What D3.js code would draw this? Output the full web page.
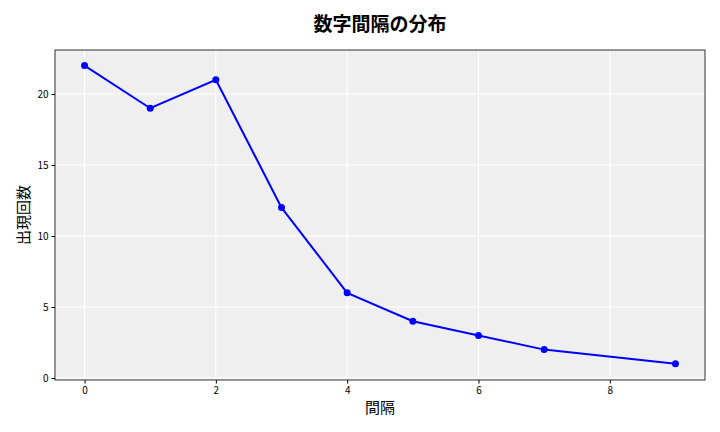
<!DOCTYPE html>
<html><head><meta charset="utf-8">
<script src="https://cdn.jsdelivr.net/npm/d3@7"></script>
<style>body{margin:0;background:#fff}text{font-family:"Noto Sans CJK JP","DejaVu Sans",sans-serif}</style>
</head><body><svg id="c" width="720" height="432"></svg>
<script>
var gaps = [0, 1, 2, 3, 4, 5, 6, 7, 9];
var counts = [22, 19, 21, 12, 6, 4, 3, 2, 1];
var xTicks = [0, 2, 4, 6, 8];
var yTicks = [0, 5, 10, 15, 20];

var svg = d3.select("#c");
var m = {l: 55, r: 705, t: 50, b: 380};
var x = d3.scaleLinear().domain([-0.45, 9.45]).range([m.l, m.r]);
var y = d3.scaleLinear().domain([-0.14, 23.1]).range([m.b, m.t]);

svg.append("rect").attr("x", m.l).attr("y", m.t).attr("width", m.r - m.l).attr("height", m.b - m.t).attr("fill", "#efefef");

// grid
svg.append("g").selectAll("line").data(xTicks).enter().append("line")
    .attr("x1", x).attr("x2", x).attr("y1", m.t).attr("y2", m.b).attr("stroke", "#fff");
svg.append("g").selectAll("line").data(yTicks).enter().append("line")
    .attr("y1", y).attr("y2", y).attr("x1", m.l).attr("x2", m.r).attr("stroke", "#fff");

svg.append("rect").attr("x", m.l).attr("y", m.t).attr("width", m.r - m.l).attr("height", m.b - m.t)
    .attr("fill", "none").attr("stroke", "#000").attr("stroke-width", 0.8);

var gx = svg.append("g").attr("transform", "translate(0," + m.b + ")")
    .call(d3.axisBottom(x).tickValues(xTicks).tickSize(3.5));
var gy = svg.append("g").attr("transform", "translate(" + m.l + ",0)")
    .call(d3.axisLeft(y).tickValues(yTicks).tickSize(3.5));
[gx, gy].forEach(function(g){
    g.select(".domain").remove();
    g.selectAll("text").attr("font-size", 10).attr("fill", "#000");
    g.selectAll("line").attr("stroke", "#000");
});

var pts = gaps.map(function(g, i){ return [g, counts[i]]; });
svg.append("path").datum(pts)
    .attr("d", d3.line().x(function(d){return x(d[0]);}).y(function(d){return y(d[1]);}))
    .attr("fill", "none").attr("stroke", "#0000ff").attr("stroke-width", 2);
svg.append("g").selectAll("circle").data(pts).enter().append("circle")
    .attr("cx", function(d){return x(d[0]);}).attr("cy", function(d){return y(d[1]);})
    .attr("r", 3.5).attr("fill", "#0000ff");

svg.append("text").attr("x", 380).attr("y", 31).attr("text-anchor", "middle")
    .attr("font-size", 19).attr("font-weight", "bold").text("数字間隔の分布");
svg.append("text").attr("x", 380).attr("y", 413).attr("text-anchor", "middle")
    .attr("font-size", 15).text("間隔");
svg.append("text").attr("transform", "translate(29,215) rotate(-90)").attr("text-anchor", "middle")
    .attr("font-size", 15).text("出現回数");
</script></body></html>
